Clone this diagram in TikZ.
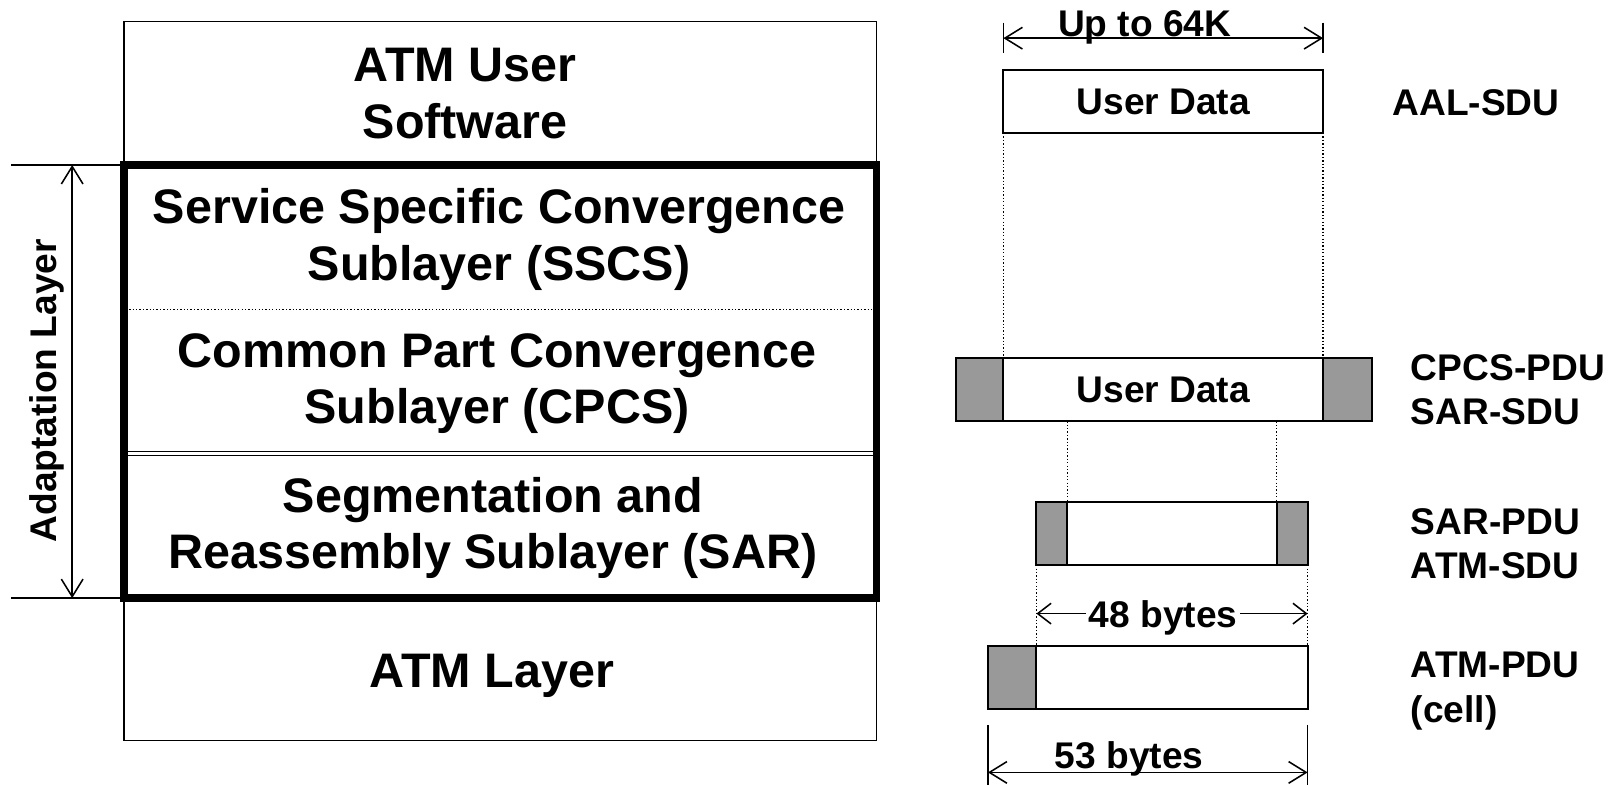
\documentclass[tikz,border=0pt]{standalone}
\usepackage{fontspec}
\setmainfont{Liberation Sans}
\usetikzlibrary{arrows.meta}
\definecolor{hdrgray}{RGB}{153,153,153}

\begin{document}
\begin{tikzpicture}[x=1pt,y=-1pt,
  big/.style={font=\fontsize{47}{55}\selectfont\bfseries, align=center},
  small/.style={font=\fontsize{36}{43}\selectfont\bfseries, align=left, inner sep=0pt},
  thinbox/.style={draw, line width=1.5pt, minimum width=730pt, inner sep=0pt, outer sep=0pt},
  pdu/.style={draw, line width=2pt, minimum height=61pt, inner sep=0pt, outer sep=0pt},
  hdr/.style={pdu, fill=hdrgray},
  guide/.style={line width=1.3pt, dotted},
  tickline/.style={line width=1.5pt},
  barb/.tip={Straight Barb[length=13pt,width=20pt,line width=1.5pt]},
  longbarb/.tip={Straight Barb[length=17pt,width=21pt,line width=1.5pt]},
  dim/.style={line width=1.5pt, longbarb-longbarb},
  halfdim/.style={line width=1.5pt, -barb},
  span/.style={line width=1.5pt, longbarb-longbarb},
]
\useasboundingbox (0,0) rectangle (1568,761);

% ---------------- protocol stack ----------------
\node[thinbox, minimum height=139pt] (user) at (485,90.5) {};
\node[big] (usertxt) at (451,90.5) {ATM User\\Software};
\node[thinbox, minimum height=138pt] (atm) at (485,649) {};
\node[big] (atmtxt) at (477,655) {ATM Layer};

\node[big] (sscs) at (484,232) {Service Specific Convergence\\Sublayer (SSCS)};
\node[big] (cpcs) at (482,372) {Common Part Convergence\\Sublayer (CPCS)};
\node[big] (sar) at (478,512) {Segmentation and\\Reassembly Sublayer (SAR)};

% sublayer separators
\draw[guide] (122,300) -- (848,300);
\draw[line width=1.2pt, double distance=2.5pt] (122,440) -- (848,440);

% the adaptation layer as a whole
\node[draw, line width=7.5pt, minimum width=730pt, minimum height=420pt,
      inner sep=0pt, outer sep=0pt] (aal) at (485,370) {};

% extent of the adaptation layer
\coordinate (adtopL) at (11,160);
\coordinate (adbotL) at (11,580);
\coordinate (adtop) at (70,160);
\coordinate (adbot) at (70,580);
\draw[tickline] (adtopL) -- (aal.north west);
\draw[tickline] (adbotL) -- (aal.south west);
\draw[span] (adtop) -- (adbot);
\node[small, rotate=90] (adlbl) at (45,379) {Adaptation Layer};

% ---------------- data units ----------------
% AAL-SDU
\node[pdu, small, minimum width=310pt] (aalsdu) at (1128,98.5) {User Data};

% CPCS-PDU
\node[hdr, minimum width=46pt] (cpcsh) at (950,378) {};
\node[pdu, small, minimum width=310pt] (cpcsd) at (1128,378) {User Data};
\node[hdr, minimum width=47pt] (cpcst) at (1306.5,378) {};

% SAR-PDU
\node[hdr, minimum width=30pt] (sarh) at (1020,517.5) {};
\node[pdu, minimum width=203pt] (sard) at (1136.5,517.5) {};
\node[hdr, minimum width=30pt] (sart) at (1253,517.5) {};

% ATM cell
\node[hdr, minimum width=47pt] (cellh) at (981.5,657) {};
\node[pdu, minimum width=263pt] (celld) at (1136.5,657) {};

% projection guides
\draw[guide] (aalsdu.south west) -- (cpcsd.north west);
\draw[guide] (aalsdu.south east) -- (cpcsd.north east);
\draw[guide] (sard.north west |- cpcsd.south) -- (sard.north west);
\draw[guide] (sard.north east |- cpcsd.south) -- (sard.north east);
\draw[guide] (sarh.south west) -- (cellh.north east);
\draw[guide] (sart.south east) -- (celld.north east);

% Up to 64K
\coordinate (u1t) at (973,22);  \coordinate (u1b) at (973,51);
\coordinate (u2t) at (1283,22); \coordinate (u2b) at (1283,51);
\coordinate (ua) at (973,37);   \coordinate (ub) at (1283,37);
\draw[tickline] (u1t) -- (u1b);
\draw[tickline] (u2t) -- (u2b);
\draw[dim] (ua) -- (ub);
\node[small, anchor=base] (up64) at (1110,35) {Up to 64K};

% 48 bytes
\coordinate (m48l) at (1005,595);
\coordinate (m48r) at (1268,595);
\node[small, inner xsep=2.5pt] (b48) at (1128,599) {48 bytes};
\draw[halfdim] (b48.west |- m48l) -- (m48l);
\draw[halfdim] (b48.east |- m48r) -- (m48r);

% 53 bytes
\coordinate (c1t) at (958,703);  \coordinate (c1b) at (958,761);
\coordinate (c2t) at (1268,703); \coordinate (c2b) at (1268,761);
\coordinate (ca) at (958,749);   \coordinate (cb) at (1268,749);
\draw[tickline] (c1t) -- (c1b);
\draw[tickline] (c2t) -- (c2b);
\draw[dim] (ca) -- (cb);
\node[small, anchor=base] (b53) at (1095,745) {53 bytes};

% unit names
\node[small, anchor=west] (l1) at (1350,100) {AAL-SDU};
\node[small, anchor=west] (l2) at (1368,378) {CPCS-PDU\\SAR-SDU};
\node[small, anchor=west] (l3) at (1368,527) {SAR-PDU\\ATM-SDU};
\node[small, anchor=west] (l4) at (1368,670) {ATM-PDU\\(cell)};
\end{tikzpicture}
\end{document}
